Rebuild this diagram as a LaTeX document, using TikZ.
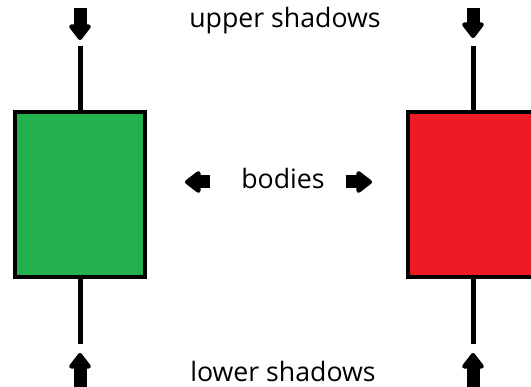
\documentclass[tikz,border=0pt]{standalone}
\usepackage{fontspec}
\setmainfont{Open Sans}
\usetikzlibrary{arrows.meta}
\definecolor{cgreen}{RGB}{34,177,76}
\definecolor{cred}{RGB}{237,28,36}
\tikzset{
  body/.style={draw=black, line width=4pt, minimum width=130pt, minimum height=165pt, inner sep=0pt},
  wick/.style={line width=5pt},
  blockarrow/.style={line width=13pt, -{Triangle[width=25pt,length=17pt,round]}},
  lbl/.style={font=\fontsize{26.7pt}{30pt}\selectfont, inner sep=0pt, anchor=base}
}
\begin{document}
\begin{tikzpicture}[x=1pt,y=-1pt]
\useasboundingbox (0,0) rectangle (531,387);
\clip (0,0) rectangle (531,387);
% bodies
\node[body, fill=cgreen] (g) at (80,194.5) {};
\node[body, fill=cred] (r) at (473,194.5) {};
% wicks
\coordinate (gt) at (80,46);
\coordinate (gb) at (80,344);
\coordinate (rt) at (473,46);
\coordinate (rb) at (473,344);
\draw[wick] (g.north) -- (gt);
\draw[wick] (g.south) -- (gb);
\draw[wick] (r.north) -- (rt);
\draw[wick] (r.south) -- (rb);
% shadow arrows
\coordinate (a1s) at (80,8);   \coordinate (a1e) at (80,40);
\coordinate (a2s) at (473,8);  \coordinate (a2e) at (473,38);
\coordinate (a3s) at (80,392); \coordinate (a3e) at (80,353);
\coordinate (a4s) at (473,392);\coordinate (a4e) at (473,353);
\draw[blockarrow] (a1s) -- (a1e);
\draw[blockarrow] (a2s) -- (a2e);
\draw[blockarrow] (a3s) -- (a3e);
\draw[blockarrow] (a4s) -- (a4e);
% body arrows
\coordinate (b1s) at (210,182); \coordinate (b1e) at (185,182);
\coordinate (b2s) at (346,182); \coordinate (b2e) at (372,182);
\draw[blockarrow] (b1s) -- (b1e);
\draw[blockarrow] (b2s) -- (b2e);
% labels
\node[lbl] (up) at (285,28) {upper shadows};
\node[lbl] (bd) at (283,189) {bodies};
\node[lbl] (lo) at (283,382) {lower shadows};
\end{tikzpicture}
\end{document}
